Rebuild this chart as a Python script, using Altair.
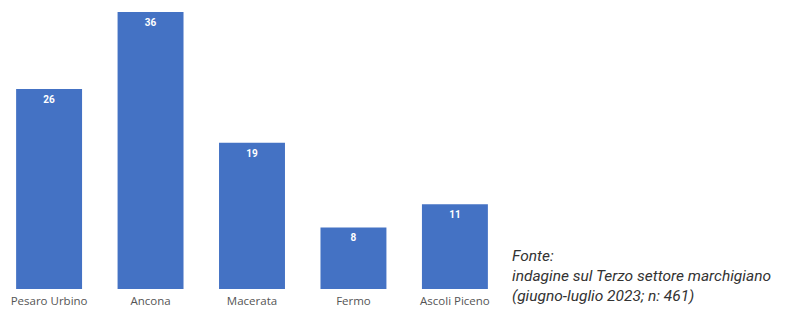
import altair as alt
import pandas as pd

categories = ["Pesaro Urbino", "Ancona", "Macerata", "Fermo", "Ascoli Piceno"]
values = [26, 36, 19, 8, 11]
note_lines = ["Fonte:", "indagine sul Terzo settore marchigiano", "(giugno-luglio  2023; n: 461)"]

df = pd.DataFrame({"provincia": categories, "valore": values})

BLUE = "#4472C4"

x = alt.X(
    "provincia:N",
    sort=categories,
    title=None,
    scale=alt.Scale(paddingInner=0.35, paddingOuter=0.08),
    axis=alt.Axis(
        labelAngle=0,
        domain=False,
        ticks=False,
        labelPadding=6,
        labelFont="Open Sans",
        labelFontSize=11.5,
        labelColor="#555555",
    ),
)
y = alt.Y("valore:Q", title=None, scale=alt.Scale(domain=[0, 36], nice=False), axis=None)

base = alt.Chart(df).encode(x=x, y=y)

bars = base.mark_bar(color=BLUE)
labels = base.mark_text(
    color="white", baseline="middle", dy=11, font="Roboto", fontSize=10, fontWeight="bold"
).encode(text="valore:Q")

note = alt.Chart(pd.DataFrame({"t": ["\n".join(note_lines)]})).mark_text(
    align="left",
    baseline="alphabetic",
    font="Roboto",
    fontStyle="italic",
    fontSize=15.5,
    color="#333333",
    lineBreak="\n",
    lineHeight=20,
).encode(x=alt.value(504), y=alt.value(249), text="t:N")

chart = (
    alt.layer(bars, labels, note)
    .properties(
        width=488,
        height=277,
        padding={"left": 0, "top": 4, "right": 302, "bottom": 20},
        autosize=alt.AutoSizeParams(type="none"),
    )
    .configure_view(stroke=None)
)

chart.save("out.html", embed_options={"renderer": "svg", "actions": False})
